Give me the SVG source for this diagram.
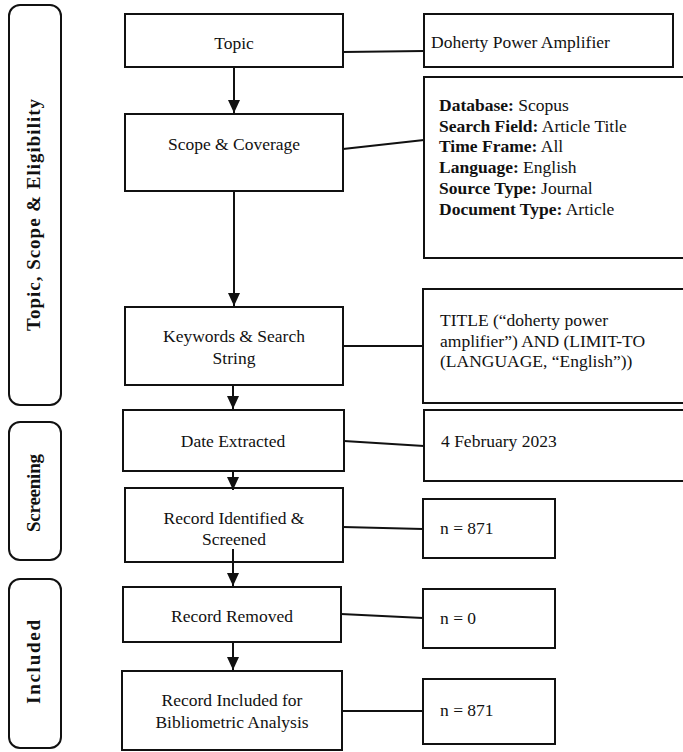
<svg xmlns="http://www.w3.org/2000/svg" width="683" height="752" viewBox="0 0 683 752">
<style>
.box{fill:#fff;stroke:#111;stroke-width:2}
.stage{fill:#fff;stroke:#111;stroke-width:2}
text{font-family:'Liberation Serif','DejaVu Serif',serif;fill:#111}
.t{font-size:17.5px}
.c{text-anchor:middle}
.b{font-weight:bold}
.lab{font-size:19px;font-weight:bold;text-anchor:middle}
.ln{stroke:#111;stroke-width:2;fill:none}
.ar{stroke:#111;stroke-width:2;fill:none;marker-end:url(#ah)}
</style>
<defs>
<marker id="ah" markerUnits="userSpaceOnUse" markerWidth="13" markerHeight="12" refX="13" refY="6" orient="auto" viewBox="0 0 13 12">
<path d="M0,0 L13,6 L0,12 Z" fill="#111"/>
</marker>
</defs>
<rect width="683" height="752" fill="#fff"/>

<g id="stage-topic">
<rect class="stage" x="9" y="5" width="52" height="400" rx="11"/>
<text class="lab" transform="translate(40,215) rotate(-90)" textLength="232" lengthAdjust="spacing">Topic, Scope &amp; Eligibility</text>
</g>
<g id="stage-screening">
<rect class="stage" x="9" y="422" width="52" height="138" rx="11"/>
<text class="lab" transform="translate(40,493) rotate(-90)" textLength="78" lengthAdjust="spacing">Screening</text>
</g>
<g id="stage-included">
<rect class="stage" x="9" y="579" width="52" height="169" rx="11"/>
<text class="lab" transform="translate(40,662) rotate(-90)" textLength="84" lengthAdjust="spacing">Included</text>
</g>

<g id="connectors">
<line class="ln" x1="343" y1="52" x2="424" y2="51"/>
<line class="ln" x1="343" y1="149" x2="424" y2="140"/>
<line class="ln" x1="343" y1="346" x2="423" y2="346"/>
<line class="ln" x1="344" y1="441" x2="424" y2="446"/>
<line class="ln" x1="343" y1="527" x2="423" y2="529"/>
<line class="ln" x1="341" y1="614" x2="423" y2="618"/>
<line class="ln" x1="342" y1="711" x2="423" y2="711"/>
</g>

<g id="n-topic">
<rect class="box" x="125" y="14" width="218" height="53"/>
<text class="t c" x="234" y="49">Topic</text>
</g>
<g id="n-scope">
<rect class="box" x="125" y="114" width="218" height="77"/>
<text class="t c" x="234" y="150">Scope &amp; Coverage</text>
</g>
<g id="n-keywords">
<rect class="box" x="125" y="307" width="218" height="78"/>
<text class="t c" x="234" y="342">Keywords &amp; Search</text>
<text class="t c" x="234" y="364">String</text>
</g>
<g id="n-date">
<rect class="box" x="123" y="410" width="221" height="61"/>
<text class="t c" x="233" y="447">Date Extracted</text>
</g>
<g id="n-identified">
<rect class="box" x="125" y="488" width="218" height="74"/>
<text class="t c" x="234" y="524">Record Identified &amp;</text>
<text class="t c" x="234" y="545">Screened</text>
</g>
<g id="n-removed">
<rect class="box" x="123" y="587" width="218" height="55"/>
<text class="t c" x="232" y="622">Record Removed</text>
</g>
<g id="n-included">
<rect class="box" x="122" y="671" width="220" height="79"/>
<text class="t c" x="232" y="706">Record Included for</text>
<text class="t c" x="232" y="728">Bibliometric Analysis</text>
</g>

<g id="r-doherty">
<rect class="box" x="424" y="14" width="249" height="53"/>
<text class="t" x="431" y="48">Doherty Power Amplifier</text>
</g>
<g id="r-database">
<rect class="box" x="424" y="77" width="270" height="181"/>
<text class="t" x="439" y="111"><tspan class="b">Database:</tspan> Scopus</text>
<text class="t" x="439" y="132"><tspan class="b">Search Field:</tspan> Article Title</text>
<text class="t" x="439" y="152"><tspan class="b">Time Frame:</tspan> All</text>
<text class="t" x="439" y="173"><tspan class="b">Language:</tspan> English</text>
<text class="t" x="439" y="194"><tspan class="b">Source Type:</tspan> Journal</text>
<text class="t" x="439" y="215"><tspan class="b">Document Type:</tspan> Article</text>
</g>
<g id="r-title">
<rect class="box" x="423" y="289" width="270" height="114"/>
<text class="t" x="440" y="326">TITLE (“doherty power</text>
<text class="t" x="440" y="347">amplifier”) AND (LIMIT-TO</text>
<text class="t" x="440" y="367">(LANGUAGE, “English”))</text>
</g>
<g id="r-date">
<rect class="box" x="424" y="410" width="270" height="71"/>
<text class="t" x="441" y="447">4 February 2023</text>
</g>
<g id="r-n1">
<rect class="box" x="423" y="499" width="132" height="59"/>
<text class="t" x="440" y="534">n = 871</text>
</g>
<g id="r-n0">
<rect class="box" x="423" y="589" width="132" height="59"/>
<text class="t" x="440" y="624">n = 0</text>
</g>
<g id="r-n2">
<rect class="box" x="423" y="679" width="132" height="65"/>
<text class="t" x="440" y="716">n = 871</text>
</g>

<g id="arrows">
<line class="ar" x1="234" y1="67" x2="234" y2="113"/>
<line class="ar" x1="234" y1="191" x2="234" y2="306"/>
<line class="ar" x1="233" y1="385" x2="233" y2="409"/>
<line class="ar" x1="233" y1="471" x2="233" y2="490"/>
<line class="ar" x1="233" y1="549" x2="233" y2="586"/>
<line class="ar" x1="233" y1="642" x2="233" y2="670"/>
</g>
</svg>
